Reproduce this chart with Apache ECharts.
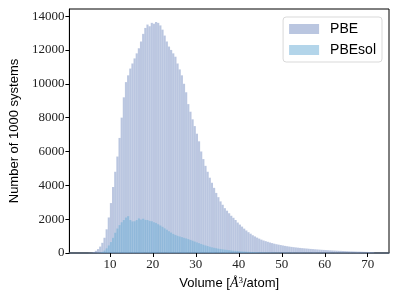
<!DOCTYPE html>
<html>
<head>
<meta charset="utf-8">
<script src="https://cdn.jsdelivr.net/npm/echarts@6/dist/echarts.min.js"></script>
<style>html,body{margin:0;padding:0;background:#fff}#c{width:399px;height:300px}</style>
</head>
<body>
<div id="c"></div>
<script>
// Histogram bins: start and width (Å^3/atom)
const binStart = 4.0;
const binWidth = 0.5;
// PBE counts per bin (from 4.0 up to 71.5)
const pbeCounts = [
  0, 0, 5, 15, 60, 130, 230, 380, 600, 900,
  1400, 2100, 2950, 3900, 4800, 5700, 6800, 8000, 9200, 10100,
  10500, 10900, 11200, 11500, 11800, 12100, 12500, 12950, 13300, 13500,
  13400, 13600, 13550, 13650, 13600, 13450, 13200, 12850, 12500, 12200,
  12000, 11800, 11600, 11200, 10850, 10500, 10000, 9500, 8800, 8350,
  7900, 7500, 7050, 6600, 6000, 5550, 5150, 4800, 4450, 4150,
  3850, 3550, 3300, 3050, 2850, 2650, 2500, 2350, 2200, 2080,
  1950, 1800, 1680, 1560, 1440, 1330, 1230, 1140, 1050, 980,
  910, 850, 790, 740, 700, 660, 620, 585, 550, 520,
  495, 470, 445, 420, 400, 380, 360, 345, 330, 315,
  300, 288, 276, 264, 252, 240, 230, 220, 210, 200,
  190, 182, 174, 166, 158, 150, 143, 136, 130, 124,
  118, 112, 106, 100, 95, 90, 85, 80, 76, 72,
  68, 64, 58, 50, 40
];
// PBEsol counts per bin
const pbesolCounts = [
  0, 0, 0, 0, 0, 0, 10, 30, 70, 150,
  280, 450, 650, 900, 1200, 1450, 1650, 1820, 1950, 2100,
  2180, 1950, 1870, 1880, 1950, 2050, 1980, 2030, 1960, 1950,
  1900, 1880, 1820, 1780, 1700, 1630, 1550, 1460, 1380, 1290,
  1210, 1130, 1070, 1020, 980, 940, 900, 865, 820, 775,
  730, 680, 630, 585, 535, 490, 450, 410, 375, 340,
  310, 285, 260, 240, 220, 200, 185, 170, 155, 140,
  128, 116, 105, 95, 86, 78, 70, 63, 57, 51,
  46, 41, 37, 33, 30, 27, 24, 22, 20, 18,
  16, 15, 14, 13, 12, 11, 10, 9, 9, 8,
  8, 7, 7, 6, 6, 5, 5, 5, 4, 4,
  4, 3, 3, 3, 3, 2, 2, 2, 2, 2,
  2, 1, 1, 1, 1, 1, 1, 1, 1, 1,
  1, 1, 1, 0, 0
];
const xTicks = [10, 20, 30, 40, 50, 60, 70];
const yTicks = [0, 2000, 4000, 6000, 8000, 10000, 12000, 14000];

function toPairs(counts) {
  return counts.map((v, i) => [binStart + i * binWidth, v]);
}
function renderBin(params, api) {
  const x0 = api.value(0), y = api.value(1);
  if (y <= 0) return null;
  const p0 = api.coord([x0, y]);
  const p1 = api.coord([x0 + binWidth, 0]);
  return {
    type: 'rect',
    shape: { x: p0[0], y: p0[1], width: p1[0] - p0[0], height: p1[1] - p0[1] },
    style: { fill: api.visual('color'), stroke: 'rgba(255,255,255,0.12)', lineWidth: 0.3 }
  };
}

const serifFont = 'Liberation Serif';
const sansFont = 'Liberation Sans';
const chart = echarts.init(document.getElementById('c'), null, { renderer: 'canvas' });
chart.setOption({
  animation: false,
  grid: { left: 63, right: 10, top: 9, bottom: 47, show: true, borderColor: '#000', borderWidth: 1, backgroundColor: 'transparent' },
  legend: {
    orient: 'vertical', right: 17, top: 17,
    itemWidth: 30, itemHeight: 10, itemGap: 7,
    icon: 'rect',
    padding: [5, 6, 5, 6],
    borderColor: '#d9d9d9', borderWidth: 1, borderRadius: 3,
    textStyle: { fontFamily: sansFont, fontSize: 14, color: '#000', padding: [0, 0, 0, 6] },
    data: ['PBE', 'PBEsol']
  },
  xAxis: {
    type: 'value', min: 0.58, max: 74.95,
    name: 'Volume [{i|Å}{s|3}/atom]',
    nameLocation: 'middle', nameGap: 23,
    nameTextStyle: {
      fontFamily: sansFont, fontSize: 13, color: '#000',
      rich: {
        i: { fontFamily: serifFont, fontStyle: 'italic', fontSize: 14, color: '#000' },
        s: { fontFamily: serifFont, fontSize: 9, color: '#000', verticalAlign: 'bottom', padding: [0, 0, 6, 0] }
      }
    },
    splitLine: { show: false },
    axisLine: { show: true, onZero: false, lineStyle: { color: '#4f5d70', width: 1.5 } },
    axisTick: { show: true, inside: false, length: 4, customValues: xTicks, lineStyle: { color: '#000' } },
    axisLabel: { customValues: xTicks, fontFamily: serifFont, fontSize: 13, color: '#222', margin: 5 }
  },
  yAxis: {
    type: 'value', min: 0, max: 14420,
    name: 'Number of 1000 systems',
    nameLocation: 'middle', nameGap: 48,
    nameTextStyle: { fontFamily: sansFont, fontSize: 13, color: '#000' },
    splitLine: { show: false },
    axisLine: { show: true, lineStyle: { color: '#000' } },
    axisTick: { show: true, inside: false, length: 4, customValues: yTicks, lineStyle: { color: '#000' } },
    axisLabel: { customValues: yTicks, formatter: v => String(v), fontFamily: serifFont, fontSize: 13, color: '#222', margin: 5 }
  },
  series: [
    {
      name: 'PBE', type: 'custom', renderItem: renderBin,
      itemStyle: { color: 'rgba(117,141,193,0.5)' },
      encode: { x: 0, y: 1 },
      data: toPairs(pbeCounts)
    },
    {
      name: 'PBEsol', type: 'custom', renderItem: renderBin,
      itemStyle: { color: 'rgba(103,171,213,0.5)' },
      encode: { x: 0, y: 1 },
      data: toPairs(pbesolCounts)
    }
  ]
});
</script>
</body>
</html>
